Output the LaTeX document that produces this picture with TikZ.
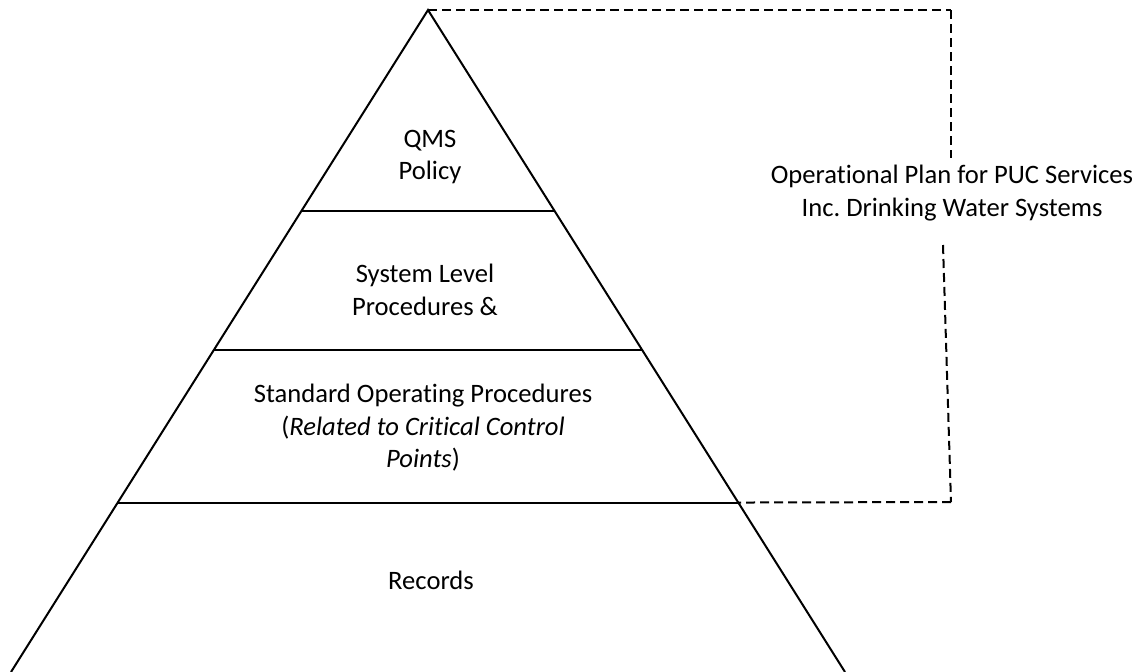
\documentclass[tikz,border=0pt]{standalone}
\usepackage{fontspec}
\setmainfont{Carlito}[Ligatures=NoCommon]
\usetikzlibrary{calc}
\frenchspacing

\begin{document}
\begin{tikzpicture}[x=0.5pt,y=-0.5pt,line width=1pt,
        font=\fontsize{13.3}{16.2}\selectfont,
        level/.style={align=center},
        plan/.style={dash pattern=on 4.5pt off 2.5pt}]
    \useasboundingbox (0,0) rectangle (1137,671);

    % outline of the pyramid
    \coordinate (top) at (428,10);
    \coordinate (baseL) at (11,672);
    \coordinate (baseR) at (845,672);
    \draw (baseL) -- (top) -- (baseR);

    % level dividers
    \foreach \n/\t in {one/0.304,two/0.513,three/0.744}{
        \coordinate (\n L) at ($(top)!\t!(baseL)$);
        \coordinate (\n R) at ($(top)!\t!(baseR)$);
        \draw (\n L) -- (\n R);
    }

    \node[level] at (430,157)(qms){QMS\\Policy};
    \node[level] at (425,290)(sys){System Level\\Procedures \&};
    \node[level] at (423,428)(sop){Standard Operating Procedures\\(\textit{Related to Critical Control}\\\textit{Points})};
    \node[level] at (431,580)(rec){Records};

    % bracket round the operational plan
    \node[level] at (952,193)(op){Operational Plan for PUC Services\\Inc. Drinking Water Systems};
    \coordinate (ne) at (951,10);
    \coordinate (se) at (951,502);
    \coordinate (up) at (951,158);
    \coordinate (dn) at (943,245);

    \path[plan]
    (top) edge (ne)
    (ne) edge (up)
    (dn) edge (se)
    (se) edge (threeR)
    ;
\end{tikzpicture}
\end{document}
